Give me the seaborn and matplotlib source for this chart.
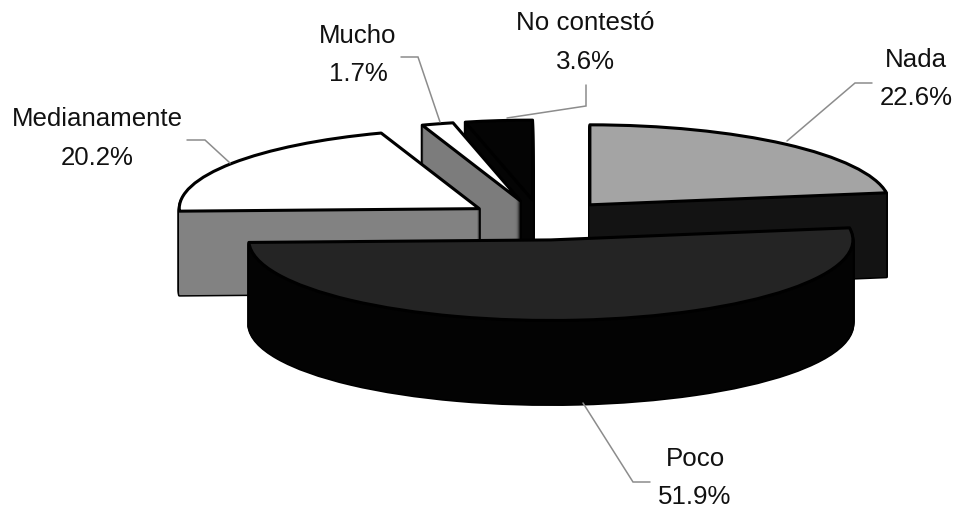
import matplotlib
matplotlib.use("Agg")
import matplotlib.pyplot as plt
import seaborn as sns

# data
categories = ["Nada", "Poco", "Medianamente", "Mucho", "No contestó"]
values = [22.6, 51.9, 20.2, 1.7, 3.6]

# colours per slice
top_colors = ["#a4a4a4", "#242424", "#ffffff", "#ffffff", "#040404"]
side_colors = ["#131313", "#030303", "#828282", "#7c7c7c", "#040404"]

# layout, in pixels of the 959x511 picture
CX, CY = 541, 220
RX, RY = 300, 80
DEPTH = 84
explode = [0.25] * 5
nudge = [0, 3, 0, 0, 0]
radius = [1, 1.007, 1, 1, 1]
draw_order = [4, 3, 2, 0, 1]
label_pos = [(916, 79), (695, 478), (97.5, 138.5), (358, 55), (585, 42.5)]
leaders = [
    [(872, 83), (855, 83), (787, 141)],
    [(650, 482), (633, 482), (583, 403)],
    [(187, 140), (205, 140), (230, 163)],
    [(401, 57), (418, 57), (440, 122)],
    [(586, 85), (586, 106), (507, 118)],
]

sns.set_theme(style="white")
plt.rcParams["font.family"] = ["Liberation Sans", "DejaVu Sans"]

fig = plt.figure(figsize=(9.59, 5.11), dpi=100, facecolor="white")
ax = fig.add_axes([0, 0, 1, 1])


def px(x, y):
    return (x - CX) / RX, (CY - y) / RY


def draw_slice(i, drop, face, edge, lw):
    wedges, _ = ax.pie(values, explode=explode, center=(nudge[i] / RX, -drop / RY),
                       radius=radius[i], startangle=90, counterclock=False,
                       colors=[face] * len(values),
                       wedgeprops=dict(edgecolor=edge, linewidth=lw, joinstyle="round"))
    for j, w in enumerate(wedges):
        if j != i:
            w.remove()


# fake the 3d look: black silhouette, side fill, then the top face
for i in draw_order:
    for drop in range(DEPTH, 0, -1):
        draw_slice(i, drop, "black", "black", 2.2)
    for drop in range(DEPTH, 0, -1):
        draw_slice(i, drop, side_colors[i], "none", 0)
    draw_slice(i, 0, top_colors[i], "black", 2.2)

ax.set_aspect("auto")
ax.set_xlim(px(0, 0)[0], px(959, 0)[0])
ax.set_ylim(px(0, 511)[1], px(0, 0)[1])
ax.axis("off")

# labels and leader lines
for name, val, pos, line in zip(categories, values, label_pos, leaders):
    xs, ys = zip(*[px(*p) for p in line])
    ax.plot(xs, ys, color="#8c8c8c", lw=1.1, solid_joinstyle="miter")
    x, y = px(*pos)
    ax.text(x, y, f"{name}\n{val}%", ha="center", va="center", ma="center",
            fontsize=18.6, color="#111111", linespacing=1.77)

fig.savefig("out.png", dpi=100, facecolor="white")
